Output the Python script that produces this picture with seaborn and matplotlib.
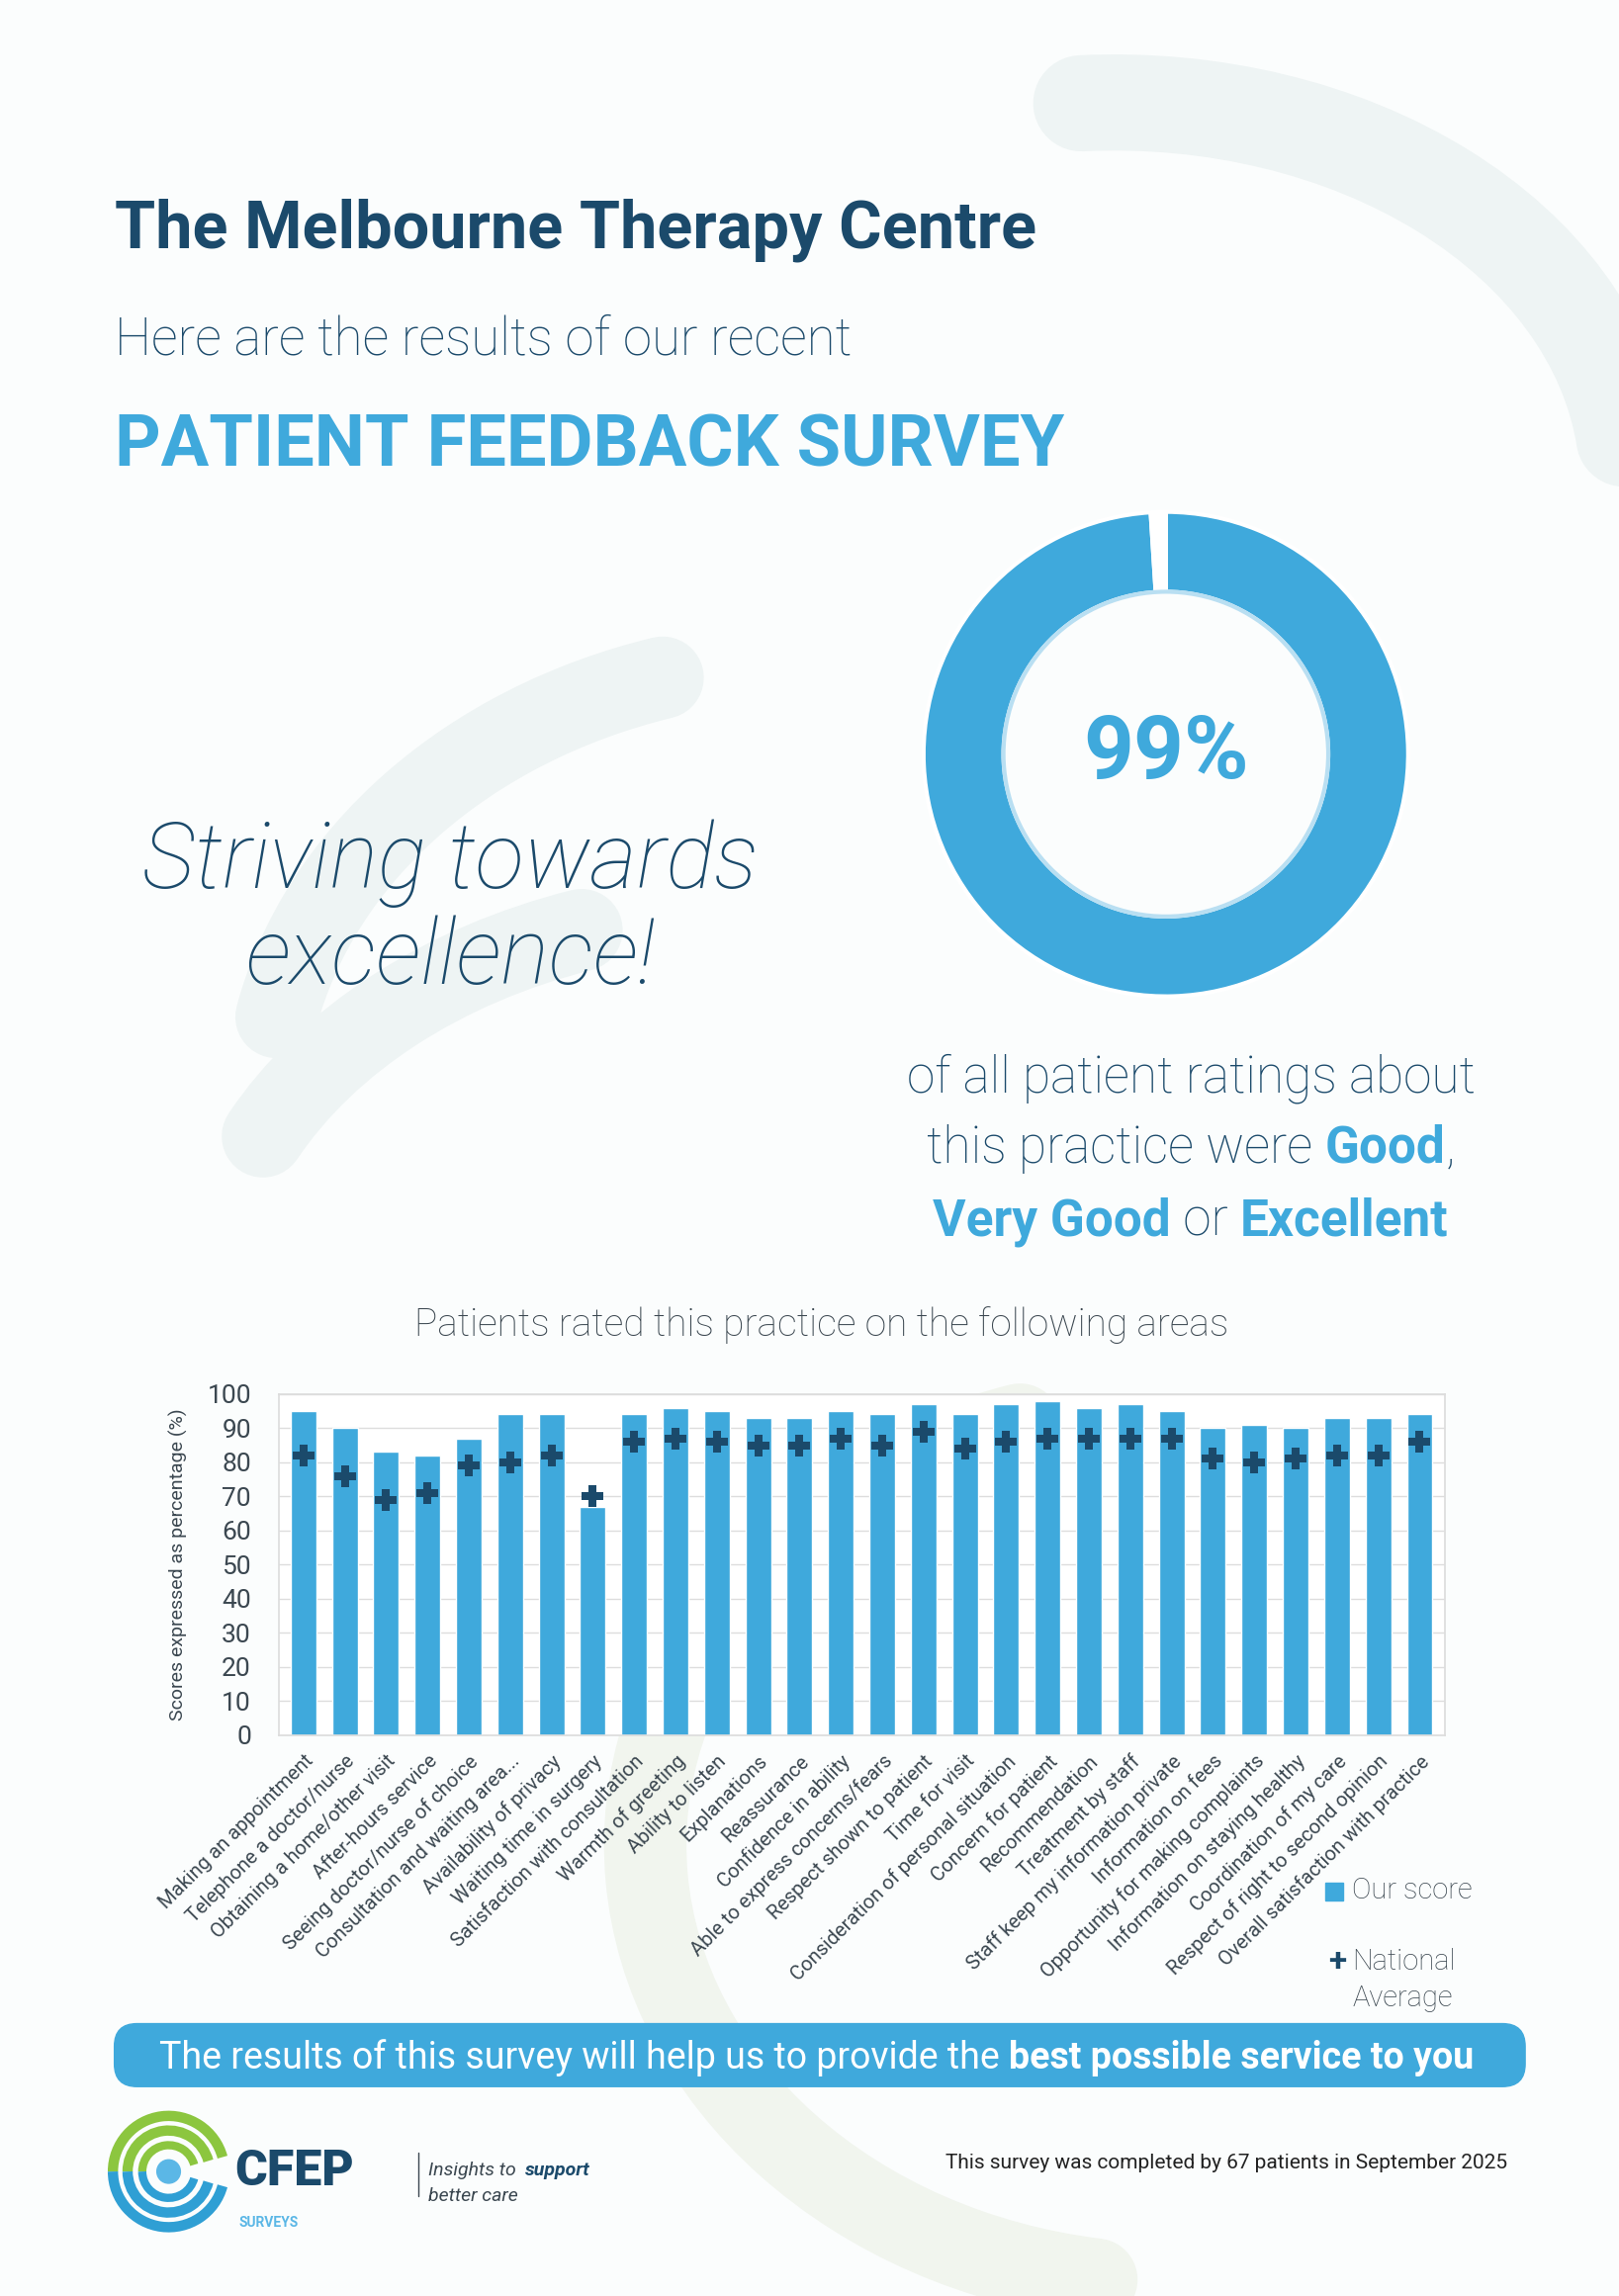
import numpy as np
import pandas as pd
import matplotlib
matplotlib.use("Agg")
import matplotlib.pyplot as plt
import matplotlib.patches as mpatches
import seaborn as sns

areas = ["Making an appointment", "Telephone a doctor/nurse", "Obtaining a home/other visit",
         "After-hours service", "Seeing doctor/nurse of choice", "Consultation and waiting area...",
         "Availability of privacy", "Waiting time in surgery", "Satisfaction with consultation",
         "Warmth of greeting", "Ability to listen", "Explanations", "Reassurance",
         "Confidence in ability", "Able to express concerns/fears", "Respect shown to patient",
         "Time for visit", "Consideration of personal situation", "Concern for patient",
         "Recommendation", "Treatment by staff", "Staff keep my information private",
         "Information on fees", "Opportunity for making complaints", "Information on staying healthy",
         "Coordination of my care", "Respect of right to second opinion",
         "Overall satisfaction with practice"]
our_score = [95, 90, 83, 82, 87, 94, 94, 67, 94, 96, 95, 93, 93, 95, 94, 97, 94, 97, 98, 96,
             97, 95, 90, 91, 90, 93, 93, 94]
national = [82, 76, 69, 71, 79, 80, 82, 70, 86, 87, 86, 85, 85, 87, 85, 89, 84, 86, 87, 87,
            87, 87, 81, 80, 81, 82, 82, 86]
positive_pct = 99

BLUE = "#3fa9dc"
NAVY = "#1b4a6b"
GREY = "#3b4750"
PALE = "#eef4f4"

sns.set_theme(style="white")
plt.rcParams["font.family"] = ["Roboto", "DejaVu Sans"]

W, H = 1104, 1568
fig = plt.figure(figsize=(16.37, 23.22), dpi=100)
fig.patch.set_facecolor("#fbfdfd")


def P(x, y):
    return x / W, 1 - y / H


# background swooshes
bg = fig.add_axes([0, 0, 1, 1], zorder=-5)
bg.set_xlim(0, W)
bg.set_ylim(H, 0)
bg.axis("off")
bg.add_patch(mpatches.Arc((760, 330), 700, 520, theta1=-95, theta2=-5, lw=70, color=PALE, capstyle="round"))
bg.add_patch(mpatches.Arc((560, 760), 760, 620, theta1=190, theta2=250, lw=60, color=PALE, capstyle="round"))
bg.add_patch(mpatches.Arc((520, 900), 760, 560, theta1=200, theta2=245, lw=60, color=PALE, capstyle="round"))
bg.add_patch(mpatches.Arc((800, 1260), 720, 600, theta1=100, theta2=250, lw=60, color="#f1f5ee", capstyle="round"))

fig.text(*P(78, 157), "The Melbourne Therapy Centre", fontsize=48, fontweight="bold", color=NAVY, va="center")
fig.text(*P(78, 232), "Here are the results of our recent", fontsize=38, fontweight="light", color=NAVY, va="center")
fig.text(*P(78, 305), "PATIENT FEEDBACK SURVEY", fontsize=52, fontweight="bold", color=BLUE, va="center")
fig.text(*P(307, 590), "Striving towards", fontsize=66, fontstyle="italic", fontweight="light", color=NAVY,
         ha="center", va="center")
fig.text(*P(307, 655), "excellence!", fontsize=66, fontstyle="italic", fontweight="light", color=NAVY,
         ha="center", va="center")

# donut
dw = 352 / W
dh = 352 / H
cx, cy = P(795, 515)
dax = fig.add_axes([cx - dw / 2, cy - dh / 2, dw, dh])
dax.pie([positive_pct, 100 - positive_pct], colors=[BLUE, "white"], startangle=90, counterclock=False,
        radius=0.94, wedgeprops=dict(width=0.31, edgecolor="white", linewidth=3))
dax.add_patch(mpatches.Circle((0, 0), 0.63, fill=False, ec="#b9dff2", lw=3))
dax.text(0, 0, f"{positive_pct}%", ha="center", va="center", fontsize=64, fontweight="bold", color=BLUE)
dax.set_xlim(-1, 1)
dax.set_ylim(-1, 1)

renderer = fig.canvas.get_renderer()


def rich_line(xc, y, parts, size):
    # parts: list of (text, weight, color); centred at xc
    objs = []
    for txt, wt, col in parts:
        objs.append(fig.text(0, 0, txt, fontsize=size, fontweight=wt, color=col, va="baseline"))
    widths = [o.get_window_extent(renderer).width / fig.bbox.width for o in objs]
    x = xc / W - sum(widths) / 2
    for o, w in zip(objs, widths):
        o.set_position((x, 1 - y / H))
        x += w


rich_line(812, 746, [("of all patient ratings about", "light", NAVY)], 37)
rich_line(812, 794, [("this practice were ", "light", NAVY), ("Good", "bold", BLUE), (",", "light", NAVY)], 37)
rich_line(812, 844, [("Very Good", "bold", BLUE), (" or ", "light", NAVY), ("Excellent", "bold", BLUE)], 37)

fig.text(*P(560, 905), "Patients rated this practice on the following areas", fontsize=28, fontweight="light",
         color=GREY, ha="center", va="center")

# bar chart
l, b = P(190, 1185)
r, t = P(985, 952)
ax = fig.add_axes([l, b, r - l, t - b])
df = pd.DataFrame({"area": areas, "our": our_score, "nat": national})
sns.barplot(data=df, x="area", y="our", color=BLUE, saturation=1, width=0.62, ax=ax, zorder=2)
sns.scatterplot(x=np.arange(len(areas)), y=national, marker="P", s=260, color=NAVY, edgecolor=NAVY,
                linewidth=0, ax=ax, zorder=3)
ax.set_ylim(0, 100)
ax.set_xlim(-0.6, len(areas) - 0.4)
ax.set_yticks(range(0, 101, 10))
ax.yaxis.grid(True, color="#dddddd", lw=1)
for s in ax.spines.values():
    s.set_color("#dddddd")
ax.tick_params(axis="y", labelsize=19, colors=GREY, pad=14)
ax.set_xticks(range(len(areas)))
ax.set_xticklabels(areas, rotation=45, ha="right", rotation_mode="anchor", fontsize=14.5, color=GREY)
ax.tick_params(axis="x", pad=6)
ax.set_xlabel("")
ax.set_ylabel("Scores expressed as percentage (%)", fontsize=14, color=GREY, labelpad=14)

fig.patches.append(mpatches.Rectangle(P(904, 1298), 12 / W, 12 / H, transform=fig.transFigure, color=BLUE))
fig.text(*P(922, 1291), "Our score", fontsize=21, fontweight="light", color=GREY, va="center")
fig.text(*P(912, 1340), "+", fontsize=24, fontweight="bold", color=NAVY, ha="center", va="center")
fig.text(*P(922, 1340), "National", fontsize=21, fontweight="light", color=GREY, va="center")
fig.text(*P(922, 1365), "Average", fontsize=21, fontweight="light", color=GREY, va="center")

# banner
bx, by = P(78, 1425)
fig.patches.append(mpatches.FancyBboxPatch((bx, by), (1040 - 78) / W, 43 / H,
                                           boxstyle="round,pad=0,rounding_size=0.014",
                                           transform=fig.transFigure, color=BLUE, mutation_aspect=W / H))
rich_line(557, 1413, [("The results of this survey will help us to provide the ", "normal", "white"),
                      ("best possible service to you", "bold", "white")], 27)

# logo
lg = fig.add_axes([70 / W, 1 - 1540 / H, 200 / W, 110 / H])
lg.set_xlim(0, 200)
lg.set_ylim(110, 0)
lg.axis("off")
lx, ly = 45, 53
for rr, wdt in [(38, 5), (28, 5), (18, 4)]:
    lg.add_patch(mpatches.Arc((lx, ly), 2 * rr, 2 * rr, theta1=180, theta2=345, lw=wdt * 1.5, color="#8cc63f"))
    lg.add_patch(mpatches.Arc((lx, ly), 2 * rr, 2 * rr, theta1=15, theta2=180, lw=wdt * 1.5, color="#2f9fd4"))
lg.add_patch(mpatches.Circle((lx, ly), 8, color="#5bb7e6"))
lg.text(90, 53, "CFEP", fontsize=36, fontweight="black", color=NAVY, va="center")
lg.text(93, 88, "SURVEYS", fontsize=10, fontweight="bold", color="#5bb7e6", va="center")
lg.plot([215, 215], [40, 70], color=GREY, lw=1, clip_on=False)
fig.text(*P(292, 1482), "Insights to ", fontsize=14, fontstyle="italic", color=GREY, va="center")
fig.text(*P(358, 1482), "support", fontsize=14, fontstyle="italic", fontweight="bold", color=NAVY, va="center")
fig.text(*P(292, 1500), "better care", fontsize=14, fontstyle="italic", color=GREY, va="center")

fig.text(*P(1028, 1477), "This survey was completed by 67 patients in September 2025", fontsize=15,
         color="#222222", ha="right", va="center")

fig.savefig("out.png", dpi=100, facecolor=fig.get_facecolor())
